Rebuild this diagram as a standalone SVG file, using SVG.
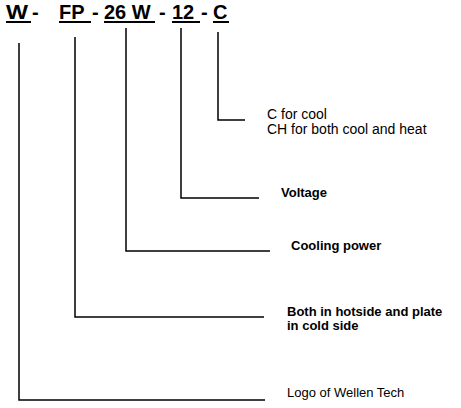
<svg xmlns="http://www.w3.org/2000/svg" width="461" height="408" viewBox="0 0 461 408">
<style>
.t{font-family:"Liberation Sans",Arial,sans-serif;fill:#000}
.title{font-size:20px;font-weight:bold}
.b{font-size:13px;font-weight:bold}
.r{font-size:14px}
.r2{font-size:13px}
.c{fill:none;stroke:#000;stroke-width:1.5}
.u{stroke:#000;stroke-width:2}
</style>
<rect width="461" height="408" fill="#fff"/>
<g id="code">
<text class="t title" x="6" y="19" textLength="22" lengthAdjust="spacingAndGlyphs">W</text>
<text class="t title" x="32" y="19">-</text>
<text class="t title" x="59" y="19">FP</text>
<text class="t title" x="92" y="19">-</text>
<text class="t title" x="104" y="19">26 W</text>
<text class="t title" x="159" y="19">-</text>
<text class="t title" x="172" y="19">12</text>
<text class="t title" x="201" y="19">-</text>
<text class="t title" x="213" y="19">C</text>
<line class="u" x1="6" y1="22" x2="31" y2="22"/>
<line class="u" x1="59" y1="22" x2="91" y2="22"/>
<line class="u" x1="104" y1="22" x2="155" y2="22"/>
<line class="u" x1="172" y1="22" x2="200" y2="22"/>
<line class="u" x1="213" y1="22" x2="229" y2="22"/>
</g>
<g id="connectors">
<path class="c" d="M218,32 V120 H245"/>
<path class="c" d="M181,28 V198 H259"/>
<path class="c" d="M126,28 V251 H270"/>
<path class="c" d="M75,37 V317 H264"/>
<path class="c" d="M19,43 V400 H265"/>
</g>
<g id="label-c">
<text class="t r" x="267" y="119">C for cool</text>
<text class="t r" x="267" y="134">CH for both cool and heat</text>
</g>
<g id="label-voltage">
<text class="t b" x="281" y="197">Voltage</text>
</g>
<g id="label-cooling">
<text class="t b" x="291" y="250">Cooling power</text>
</g>
<g id="label-both">
<text class="t b" x="287" y="316">Both in hotside and plate</text>
<text class="t b" x="287" y="330">in cold side</text>
</g>
<g id="label-logo">
<text class="t r2" x="287" y="397">Logo of Wellen Tech</text>
</g>
</svg>
